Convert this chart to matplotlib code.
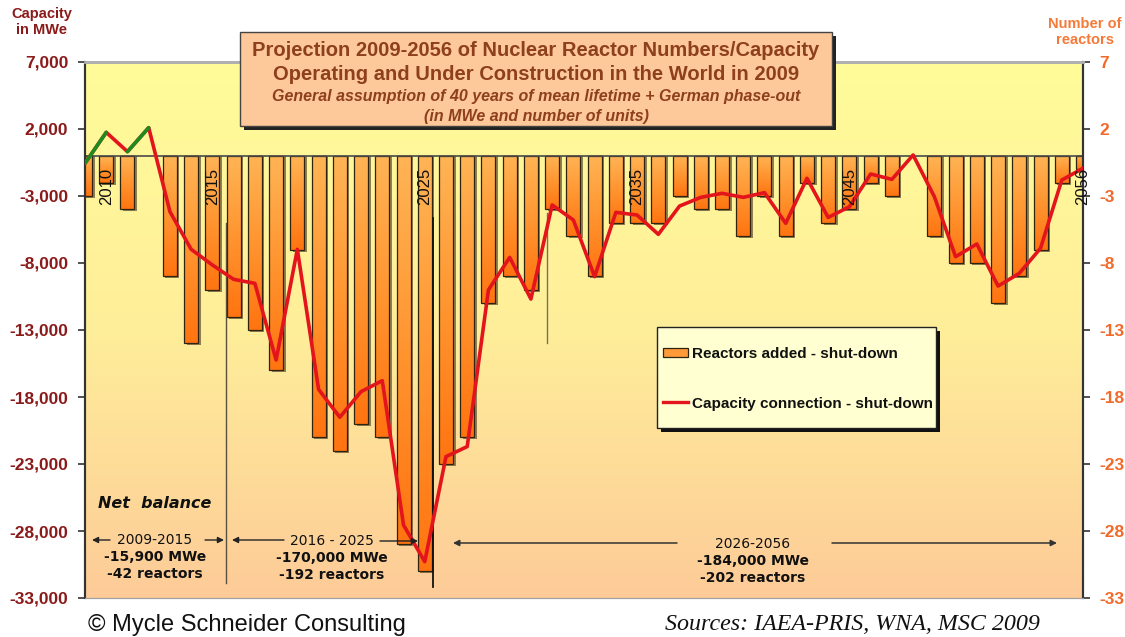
import numpy as np
import matplotlib
matplotlib.use('Agg')
import matplotlib.pyplot as plt
from matplotlib.patches import Rectangle
from matplotlib.colors import LinearSegmentedColormap

# ---------------- data ----------------
years = list(range(2009, 2057))
reactors = [-3, -2, -4, 0, -9, -14, -10,
            -12, -13, -16, -7, -21, -22, -20, -21, -29, -31,
            -23, -21, -11, -9, -10, -4, -6, -9, -5, -5,
            -5, -3, -4, -4, -6, -3, -6, -2, -5, -4,
            -2, -3, 0, -6, -8, -8, -11, -9, -7, -2, -1]
capacity = [-560, 1750, 310, 2100, -4170, -6980, -8150,
            -9220, -9520, -15240, -6980, -17430, -19510, -17600, -16780, -27550, -30290,
            -22450, -21700, -10010, -7580, -10690, -3670, -4790, -9020, -4220, -4420,
            -5860, -3750, -3100, -2800, -3100, -2750, -5040, -1680, -4600, -3800,
            -1360, -1760, 60, -3050, -7530, -6580, -9720, -8770, -6900, -1810, -930]
year_labels = [2010, 2015, 2025, 2035, 2045, 2056]
left_ticks = list(range(-33000, 7001, 5000))
right_ticks = list(range(-33, 8, 5))
green_segments = [(0, 1), (2, 3)]

W, H = 1125, 637
def P(px, py):
    return (px / W, 1 - py / H)

fig = plt.figure(figsize=(W / 100, H / 100), dpi=100)
fig.patch.set_facecolor('white')
ax = fig.add_axes([85 / W, 1 - 598 / H, 998 / W, 536 / H])
ax2 = ax.twinx()
ax.set_zorder(ax2.get_zorder() + 1)
ax.patch.set_visible(False)

# background gradient
bg = LinearSegmentedColormap.from_list('bg', ['#FFFC99', '#FFEE9A', '#FDCB98'])
grad = np.linspace(0, 1, 256).reshape(-1, 1)
ax2.imshow(grad, extent=[2009, 2056, -33, 7], aspect='auto', cmap=bg,
           origin='upper', zorder=0, interpolation='bicubic')

# bars (number of reactors, right axis)
barcm = LinearSegmentedColormap.from_list('bar', ['#FFB455', '#FF9530', '#FF7410'])
w = 0.66
for x, v in zip(years, reactors):
    if v == 0:
        continue
    sh = Rectangle((x - w / 2 + 0.12, v - 0.15), w, -v + 0.15, facecolor='#6B5A3A',
                   edgecolor='none', alpha=0.75, zorder=1)
    ax2.add_patch(sh)
    ax2.imshow(grad, extent=[x - w / 2, x + w / 2, v, 0], aspect='auto', cmap=barcm,
               origin='upper', zorder=2, interpolation='bicubic')
    ax2.add_patch(Rectangle((x - w / 2, v), w, -v, facecolor='none',
                            edgecolor='#2E2410', lw=0.9, zorder=3))

ax2.set_xlim(2009, 2056)
ax2.set_ylim(-33, 7)
ax.set_xlim(2009, 2056)
ax.set_ylim(-33000, 7000)

# zero line
ax.axhline(0, color='#4A4A4A', lw=1.2, zorder=2)

# separator lines
ax.plot([2015.63, 2015.63], [-5010, -31880], color='#5A5040', lw=1.0, zorder=2)
ax.plot([2025.38, 2025.38], [-4640, -32170], color='#111111', lw=1.3, zorder=2)
ax.plot([2030.75, 2030.75], [-4270, -13970], color='#777060', lw=1.0, zorder=2)

# capacity line
ax.plot(years, capacity, color='#E3141B', lw=2.6, zorder=5,
        solid_joinstyle='round', solid_capstyle='round')
for a, b in green_segments:
    ax.plot(years[a:b + 1], capacity[a:b + 1], color='#1F8A1F', lw=2.6, zorder=6,
            solid_capstyle='round')

# year labels
for yl in year_labels:
    ax.text(yl, -900, str(yl), rotation=90, ha='center', va='top', fontsize=12,
            family='Liberation Sans', color='#111111', zorder=7, clip_on=False)

# axes styling
ax.set_xticks([])
ax2.set_xticks([])
ax.set_yticks(left_ticks)
ax.set_yticklabels([f'{t:,}' for t in left_ticks], fontsize=12.5, fontweight='bold',
                   color='#8B1A1A', family='Liberation Sans')
ax2.set_yticks(right_ticks)
ax2.set_yticklabels([str(t) for t in right_ticks], fontsize=12.5, fontweight='bold',
                    color='#F26A2A', family='Liberation Sans')
ax.tick_params(axis='y', direction='out', length=5, width=1.2, color='#333333', pad=7)
ax2.tick_params(axis='y', direction='out', length=5, width=1.2, color='#333333', pad=7)
for a in (ax, ax2):
    a.spines['top'].set_color('#B0B0B0')
    a.spines['top'].set_linewidth(2)
    a.spines['bottom'].set_color('#A0A0A0')
    a.spines['left'].set_color('#333333')
    a.spines['right'].set_color('#333333')
    a.spines['left'].set_linewidth(1.5)
    a.spines['right'].set_linewidth(1.5)

# axis titles
fig.text(*P(42, 22), 'Capacity\nin MWe', ha='center', va='center', fontsize=10.5,
         fontweight='bold', color='#8B1A1A', family='Liberation Sans', linespacing=1.15)
fig.text(*P(1085, 32), 'Number of\nreactors', ha='center', va='center', fontsize=10.5,
         fontweight='bold', color='#F47A3A', family='Liberation Sans', linespacing=1.15)

# title box
bx0, by0, bx1, by1 = 240, 32, 832, 126
fig.patches.append(Rectangle(P(bx0 + 4, by1 + 4), (bx1 - bx0) / W, (by1 - by0) / H,
                             transform=fig.transFigure, facecolor='#222222',
                             edgecolor='none', zorder=10))
fig.patches.append(Rectangle(P(bx0, by1), (bx1 - bx0) / W, (by1 - by0) / H,
                             transform=fig.transFigure, facecolor='#FDC89A',
                             edgecolor='#444444', lw=1, zorder=11))
tc = '#8E3F1C'
fig.text(*P(536, 50), 'Projection 2009-2056 of Nuclear Reactor Numbers/Capacity', ha='center',
         va='center', fontsize=14.5, fontweight='bold', color=tc, family='Liberation Sans', zorder=12)
fig.text(*P(536, 74), 'Operating and Under Construction in the World in 2009', ha='center',
         va='center', fontsize=14.5, fontweight='bold', color=tc, family='Liberation Sans', zorder=12)
fig.text(*P(536, 97), 'General assumption of 40 years of mean lifetime + German phase-out',
         ha='center', va='center', fontsize=11.5, fontweight='bold', style='italic', color=tc,
         family='Liberation Sans', zorder=12)
fig.text(*P(536, 116), '(in MWe and number of units)', ha='center', va='center', fontsize=11.5,
         fontweight='bold', style='italic', color=tc, family='Liberation Sans', zorder=12)

# legend box
lx0, ly0, lx1, ly1 = 657, 327, 936, 428
fig.patches.append(Rectangle(P(lx0 + 4, ly1 + 4), (lx1 - lx0) / W, (ly1 - ly0) / H,
                             transform=fig.transFigure, facecolor='#111111',
                             edgecolor='none', zorder=10))
fig.patches.append(Rectangle(P(lx0, ly1), (lx1 - lx0) / W, (ly1 - ly0) / H,
                             transform=fig.transFigure, facecolor='#FFFFD2',
                             edgecolor='#222222', lw=1, zorder=11))
fig.patches.append(Rectangle(P(663, 357), 25 / W, 9 / H, transform=fig.transFigure,
                             facecolor='#FF9A3A', edgecolor='#2E2410', lw=0.9, zorder=12))
fig.lines.append(plt.Line2D([663 / W, 688 / W], [1 - 402 / H, 1 - 402 / H],
                            transform=fig.transFigure, color='#E3141B', lw=2.4, zorder=12))
fig.text(*P(692, 354), 'Reactors added - shut-down', ha='left', va='center', fontsize=11,
         fontweight='bold', color='#111111', family='Liberation Sans', zorder=12)
fig.text(*P(692, 404), 'Capacity connection - shut-down', ha='left', va='center', fontsize=11,
         fontweight='bold', color='#111111', family='Liberation Sans', zorder=12)

# period annotations
fig.text(*P(98, 503), 'Net  balance', ha='left', va='center', fontsize=11.5,
         fontweight='bold', style='italic', color='#111111', family='DejaVu Sans')

def arrow(x0, x1, y, color='#222222', lw=1.0):
    ax.annotate('', xy=P(x1, y), xytext=P(x0, y), xycoords='figure fraction',
                textcoords='figure fraction',
                arrowprops=dict(arrowstyle='-|>', color=color, lw=lw, mutation_scale=9,
                                shrinkA=0, shrinkB=0), zorder=8)

def period(cx, y, head, l1, l2):
    fig.text(*P(cx, y), head, ha='center', va='center', fontsize=10, color='#111111',
             family='DejaVu Sans')
    fig.text(*P(cx, y + 17), l1, ha='center', va='center', fontsize=10, fontweight='bold',
             color='#111111', family='DejaVu Sans')
    fig.text(*P(cx, y + 34), l2, ha='center', va='center', fontsize=10, fontweight='bold',
             color='#111111', family='DejaVu Sans')

period(155, 540, '2009-2015', '-15,900 MWe', '-42 reactors')
arrow(110, 92, 540)
arrow(205, 224, 540)
period(332, 541, '2016 - 2025', '-170,000 MWe', '-192 reactors')
arrow(284, 232, 540)
arrow(380, 418, 541)
period(753, 544, '2026-2056', '-184,000 MWe', '-202 reactors')
arrow(677, 453, 543, color='#333333', lw=1.1)
arrow(832, 1057, 543, color='#333333', lw=1.1)

# footer
fig.text(*P(88, 625), '\u00a9 Mycle Schneider Consulting', ha='left', va='center', fontsize=17,
         color='#111111', family='Liberation Sans')
fig.text(*P(1040, 625), 'Sources: IAEA-PRIS, WNA, MSC 2009', ha='right', va='center',
         fontsize=17.3, style='italic', color='#111111', family='Liberation Serif')

fig.savefig('out.png', dpi=100)
